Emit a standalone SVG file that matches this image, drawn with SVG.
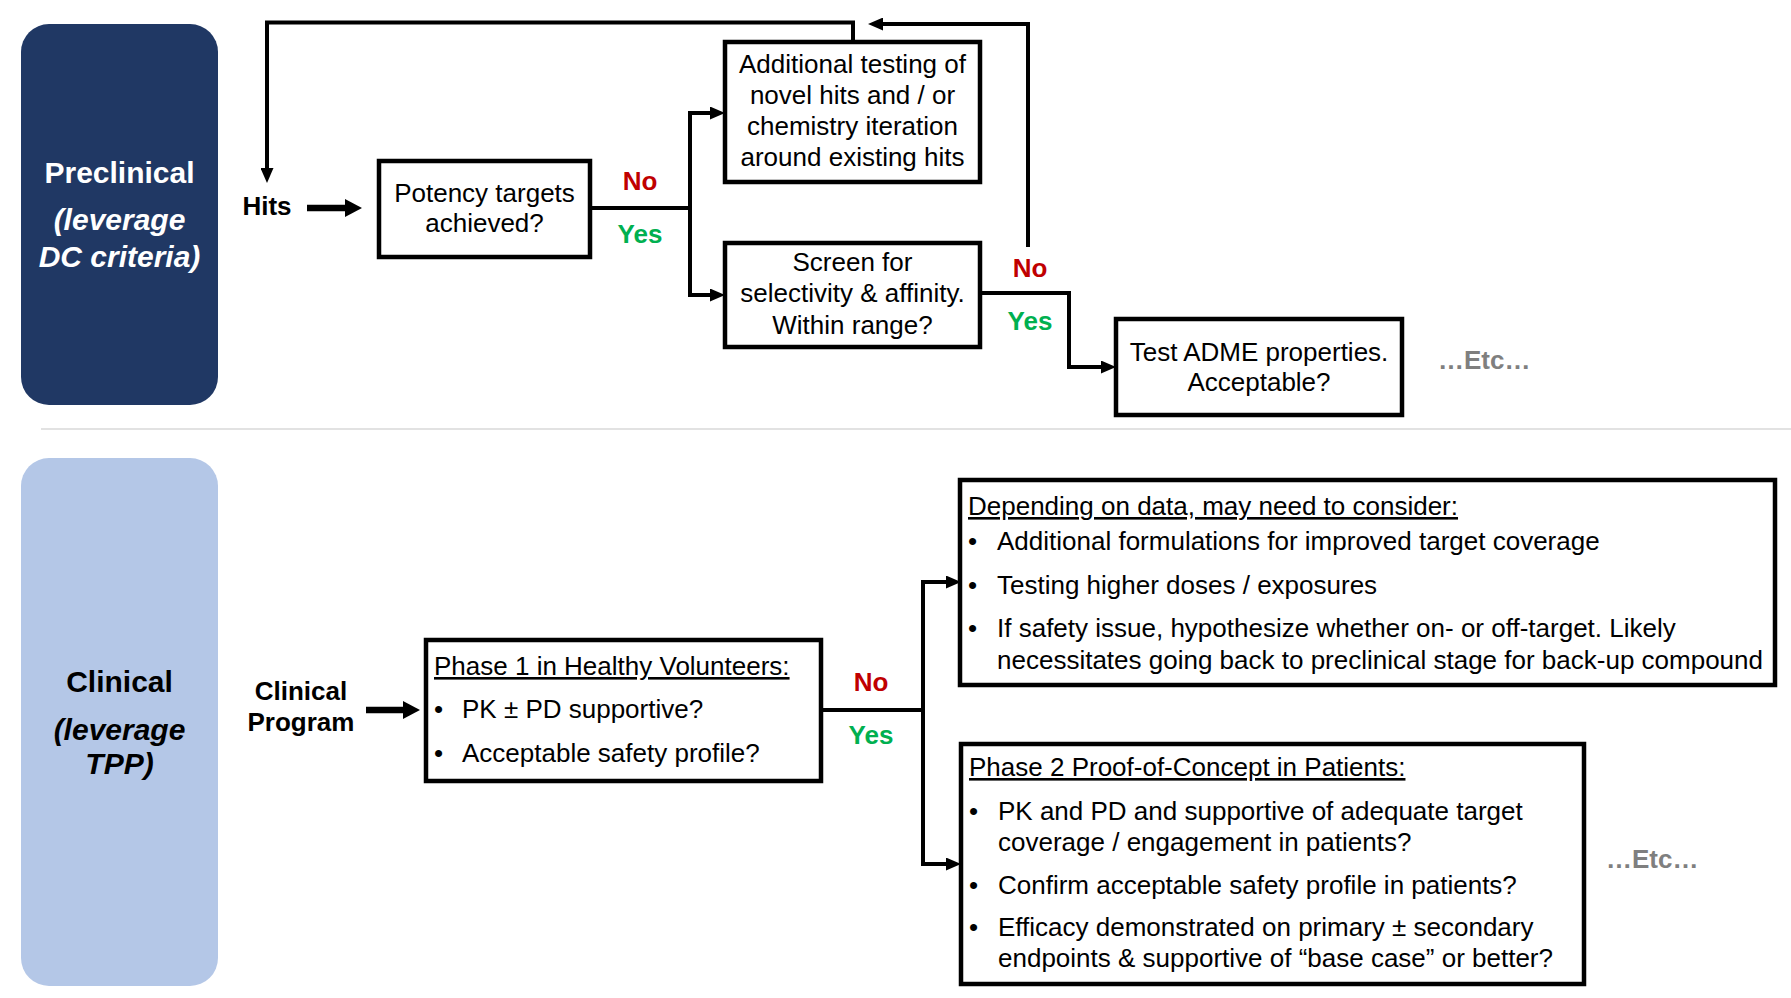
<svg xmlns="http://www.w3.org/2000/svg" width="1791" height="998" viewBox="0 0 1791 998">
<style>
text{font-family:"Liberation Sans",Arial,Helvetica,sans-serif;font-size:26px;fill:#000}
.c{text-anchor:middle}
.b{font-weight:bold}
.i{font-style:italic}
.ttl{font-size:30px;font-weight:bold}
.w{fill:#fff}
.no{fill:#c00000;font-weight:bold;text-anchor:middle}
.yes{fill:#00b050;font-weight:bold;text-anchor:middle}
.etc{fill:#7f7f7f;font-weight:bold}
.u{text-decoration:underline}
.box{fill:#fff;stroke:#000;stroke-width:4.5}
.ln{fill:none;stroke:#000;stroke-width:4;stroke-linejoin:miter}
.thick{fill:none;stroke:#000;stroke-width:6.5}
</style>
<defs>
<marker id="ah" markerWidth="15" markerHeight="13" refX="0" refY="6.5" orient="auto" markerUnits="userSpaceOnUse">
<path d="M0,0 L15,6.5 L0,13 z" fill="#000"/>
</marker>
<marker id="ahb" markerWidth="17" markerHeight="18" refX="0" refY="9" orient="auto" markerUnits="userSpaceOnUse">
<path d="M0,0 L17,9 L0,18 z" fill="#000"/>
</marker>
</defs>

<g id="preclinical-stage">
<rect x="21" y="24" width="197" height="381" rx="28" ry="28" fill="#203864"/>
<text class="c ttl w" x="119.5" y="183">Preclinical</text>
<text class="c ttl i w" x="119.5" y="230">(leverage</text>
<text class="c ttl i w" x="119.5" y="267">DC criteria)</text>
</g>

<g id="clinical-stage">
<rect x="21" y="458" width="197" height="528" rx="28" ry="28" fill="#b4c7e7"/>
<text class="c ttl" x="119.5" y="692">Clinical</text>
<text class="c ttl i" x="119.5" y="740">(leverage</text>
<text class="c ttl i" x="119.5" y="774">TPP)</text>
</g>

<line id="separator" x1="41" y1="429" x2="1791" y2="429" stroke="#d9d9d9" stroke-width="1.5"/>

<g id="connectors">
<path class="ln" d="M853,42 V22.5 H267 V168" marker-end="url(#ah)"/>
<path class="ln" d="M1028,247 V24 H883" marker-end="url(#ah)"/>
<path class="thick" d="M307,208 H345" marker-end="url(#ahb)"/>
<path class="ln" d="M590,208 H690"/>
<path class="ln" d="M710,113 H690 V295 H710" marker-end="url(#ah)"/>
<path class="ln" d="M690,113 H710" marker-end="url(#ah)"/>
<path class="ln" d="M980,293 H1069 V367 H1101" marker-end="url(#ah)"/>
<path class="thick" d="M366,710 H403" marker-end="url(#ahb)"/>
<path class="ln" d="M821,710 H923"/>
<path class="ln" d="M946,582 H923 V864 H946" marker-end="url(#ah)"/>
<path class="ln" d="M923,582 H946" marker-end="url(#ah)"/>
</g>

<g id="labels">
<text class="no" x="640" y="190">No</text>
<text class="yes" x="640" y="243">Yes</text>
<text class="no" x="1030" y="277">No</text>
<text class="yes" x="1030" y="330">Yes</text>
<text class="no" x="871" y="691">No</text>
<text class="yes" x="871" y="744">Yes</text>
</g>

<g id="hits">
<text class="c b" x="267" y="215">Hits</text>
</g>

<g id="potency">
<rect class="box" x="379" y="161" width="211" height="96"/>
<text class="c" x="484.5" y="202">Potency targets</text>
<text class="c" x="484.5" y="232">achieved?</text>
</g>

<g id="additional-testing">
<rect class="box" x="725" y="42" width="255" height="140"/>
<text class="c" x="852.5" y="73">Additional testing of</text>
<text class="c" x="852.5" y="104">novel hits and / or</text>
<text class="c" x="852.5" y="135">chemistry iteration</text>
<text class="c" x="852.5" y="166">around existing hits</text>
</g>

<g id="screen">
<rect class="box" x="725" y="243" width="255" height="104"/>
<text class="c" x="852.5" y="271">Screen for</text>
<text class="c" x="852.5" y="302">selectivity &amp; affinity.</text>
<text class="c" x="852.5" y="334">Within range?</text>
</g>

<g id="adme">
<rect class="box" x="1116" y="319" width="286" height="96"/>
<text class="c" x="1259" y="361">Test ADME properties.</text>
<text class="c" x="1259" y="391">Acceptable?</text>
</g>

<g id="etc-preclinical">
<text class="etc" x="1438" y="369">…Etc…</text>
</g>

<g id="clinical-program">
<text class="c b" x="301" y="700">Clinical</text>
<text class="c b" x="301" y="731">Program</text>
</g>

<g id="phase1">
<rect class="box" x="426" y="640" width="395" height="141"/>
<text class="u" x="434" y="675">Phase 1 in Healthy Volunteers:</text>
<text x="434" y="718">•</text><text x="462" y="718">PK ± PD supportive?</text>
<text x="434" y="762">•</text><text x="462" y="762">Acceptable safety profile?</text>
</g>

<g id="depending">
<rect class="box" x="960" y="480" width="815" height="205"/>
<text class="u" x="968" y="515">Depending on data, may need to consider:</text>
<text x="968" y="550">•</text><text x="997" y="550">Additional formulations for improved target coverage</text>
<text x="968" y="594">•</text><text x="997" y="594">Testing higher doses / exposures</text>
<text x="968" y="637">•</text><text x="997" y="637">If safety issue, hypothesize whether on- or off-target. Likely</text>
<text x="997" y="669">necessitates going back to preclinical stage for back-up compound</text>
</g>

<g id="phase2">
<rect class="box" x="961" y="744" width="623" height="240"/>
<text class="u" x="969" y="776">Phase 2 Proof-of-Concept in Patients:</text>
<text x="969" y="820">•</text><text x="998" y="820">PK and PD and supportive of adequate target</text>
<text x="998" y="851">coverage / engagement in patients?</text>
<text x="969" y="894">•</text><text x="998" y="894">Confirm acceptable safety profile in patients?</text>
<text x="969" y="936">•</text><text x="998" y="936">Efficacy demonstrated on primary ± secondary</text>
<text x="998" y="967">endpoints &amp; supportive of “base case” or better?</text>
</g>

<g id="etc-clinical">
<text class="etc" x="1606" y="868">…Etc…</text>
</g>
</svg>
